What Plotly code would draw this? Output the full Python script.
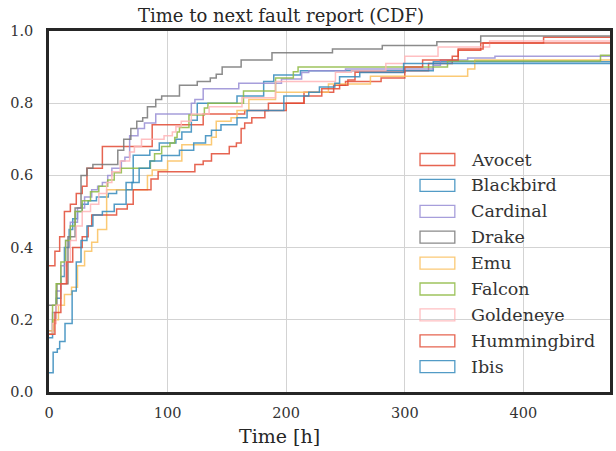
import plotly.graph_objects as go

# ---- data ----
names = ["Avocet", "Blackbird", "Cardinal", "Drake", "Emu", "Falcon",
         "Goldeneye", "Hummingbird", "Ibis"]
colors = ["#E24A33", "#348ABD", "#988ED5", "#777777", "#FBC15E", "#8EBA42",
          "#FFB5B8", "#E24A33", "#348ABD"]

avocet_x = [0, 5, 9, 13, 18, 23, 28, 32, 45, 87, 130, 165, 185, 215, 240, 250, 280, 300, 320, 340, 345, 364, 417, 473]
avocet_y = [0.35, 0.39, 0.43, 0.50, 0.52, 0.55, 0.57, 0.62, 0.68, 0.74, 0.77, 0.78, 0.80, 0.83, 0.85, 0.86, 0.87, 0.89, 0.91, 0.93, 0.947, 0.967, 0.983, 0.983]

blackbird_x = [0, 3, 6, 10, 13, 17, 20, 24, 28, 33, 40, 50, 57, 65, 71, 85, 93, 107, 112, 120, 125, 158.5, 181, 189.5, 212, 324, 473]
blackbird_y = [0.15, 0.20, 0.26, 0.32, 0.40, 0.45, 0.48, 0.50, 0.52, 0.53, 0.54, 0.55, 0.56, 0.58, 0.656, 0.67, 0.69, 0.70, 0.72, 0.753, 0.80, 0.82, 0.86, 0.878, 0.89, 0.915, 0.915]

cardinal_x = [0, 3, 6, 10, 14, 18, 24, 30, 36, 41, 45, 49.5, 53, 61, 64, 68, 75, 80.5, 90, 120, 123, 130, 160, 196, 213, 219, 250, 324, 330, 353, 376, 473]
cardinal_y = [0.17, 0.22, 0.28, 0.35, 0.42, 0.47, 0.51, 0.54, 0.56, 0.57, 0.58, 0.60, 0.62, 0.64, 0.65, 0.71, 0.73, 0.745, 0.77, 0.80, 0.81, 0.84, 0.855, 0.867, 0.885, 0.89, 0.895, 0.905, 0.92, 0.925, 0.93, 0.93]

drake_x = [0, 6.7, 16, 22, 27, 32, 37, 58, 63, 69, 74, 79, 83, 90, 95, 110, 125, 136, 141, 146, 162, 188, 239, 281, 327, 364, 473]
drake_y = [0.24, 0.30, 0.43, 0.51, 0.60, 0.62, 0.63, 0.67, 0.70, 0.73, 0.75, 0.76, 0.79, 0.81, 0.82, 0.85, 0.86, 0.87, 0.88, 0.90, 0.92, 0.94, 0.95, 0.96, 0.97, 0.986, 0.986]

emu_x = [0, 4, 8, 13, 19, 24, 30, 36, 41, 48.6, 83, 87, 100, 112, 137, 141, 153.5, 158.5, 168.5, 191, 235.6, 271, 353, 359, 473]
emu_y = [0.17, 0.20, 0.24, 0.27, 0.29, 0.35, 0.39, 0.415, 0.45, 0.56, 0.60, 0.615, 0.64, 0.685, 0.706, 0.75, 0.76, 0.78, 0.81, 0.83, 0.853, 0.875, 0.895, 0.92, 0.92]

falcon_x = [0, 3, 6, 10, 14, 18, 22, 28, 35, 42, 49.5, 55, 61, 85.5, 89, 95, 102, 106, 108, 110, 118, 131, 134, 164, 191, 206, 210, 336, 465, 473]
falcon_y = [0.16, 0.24, 0.30, 0.36, 0.42, 0.46, 0.50, 0.53, 0.555, 0.57, 0.587, 0.607, 0.62, 0.64, 0.66, 0.68, 0.69, 0.705, 0.72, 0.733, 0.767, 0.787, 0.80, 0.834, 0.87, 0.887, 0.90, 0.917, 0.933, 0.933]

goldeneye_x = [0, 3, 6, 10, 14, 18, 23, 28, 35, 42, 48.6, 53, 60, 68, 72, 78, 97, 104, 107, 111.5, 120, 135, 162.7, 191, 241.5, 255, 284, 300, 328, 371.5, 473]
goldeneye_y = [0.16, 0.19, 0.24, 0.30, 0.36, 0.42, 0.46, 0.50, 0.52, 0.55, 0.58, 0.61, 0.64, 0.665, 0.68, 0.70, 0.71, 0.72, 0.735, 0.75, 0.77, 0.79, 0.815, 0.86, 0.886, 0.89, 0.91, 0.93, 0.956, 0.972, 0.972]

hummingbird_x = [0, 5, 10, 15, 20, 28, 33, 36, 57, 66, 71, 86, 92, 123, 130, 137, 152, 158, 162, 165, 171, 182, 200, 215, 230, 245, 252, 258, 300, 315, 345, 366, 473]
hummingbird_y = [0.16, 0.22, 0.30, 0.36, 0.40, 0.43, 0.46, 0.49, 0.507, 0.52, 0.56, 0.59, 0.61, 0.63, 0.64, 0.66, 0.68, 0.69, 0.73, 0.745, 0.76, 0.78, 0.80, 0.82, 0.84, 0.85, 0.864, 0.886, 0.90, 0.92, 0.95, 0.967, 0.967]

ibis_x = [0, 3.5, 7, 9, 13.5, 19.5, 23, 27, 32, 37, 45, 55, 65, 70, 76, 85, 95, 110, 122, 132, 137, 145, 158.5, 167, 198, 219, 228, 241, 245, 262, 299, 473]
ibis_y = [0.053, 0.11, 0.12, 0.14, 0.19, 0.28, 0.36, 0.42, 0.46, 0.49, 0.50, 0.52, 0.56, 0.58, 0.62, 0.64, 0.655, 0.67, 0.69, 0.71, 0.725, 0.74, 0.76, 0.78, 0.82, 0.83, 0.845, 0.855, 0.873, 0.885, 0.91, 0.91]

xs = [avocet_x, blackbird_x, cardinal_x, drake_x, emu_x, falcon_x, goldeneye_x, hummingbird_x, ibis_x]
ys = [avocet_y, blackbird_y, cardinal_y, drake_y, emu_y, falcon_y, goldeneye_y, hummingbird_y, ibis_y]

x_ticks = [0, 100, 200, 300, 400]
y_ticks = [0.0, 0.2, 0.4, 0.6, 0.8, 1.0]
x_max = 473

FONT = "DejaVu Serif, Liberation Serif, serif"
W, H = 616, 451
L, R, T, B = 49, 613, 31, 392

fig = go.Figure()
for name, col, x, y in zip(names, colors, xs, ys):
    fig.add_trace(go.Scatter(x=x, y=y, mode="lines", name=name,
                             line=dict(color=col, width=1.5, shape="hv"),
                             opacity=0.85, showlegend=False, hoverinfo="skip"))

# manual legend with rectangle patches (like matplotlib step-hist patches)
def px2paper_x(px):
    return (px - L) / (R - L)

def px2paper_y(py):
    return (B - py) / (B - T)

shapes = []
annotations = []
for i, (name, col) in enumerate(zip(names, colors)):
    cy = 159.5 + i * 25.9
    shapes.append(dict(type="rect", xref="paper", yref="paper",
                       x0=px2paper_x(422), x1=px2paper_x(457),
                       y0=px2paper_y(cy + 6), y1=px2paper_y(cy - 6),
                       line=dict(color=col, width=1.3), fillcolor="rgba(0,0,0,0)",
                       opacity=0.85))
    annotations.append(dict(text=name, xref="paper", yref="paper",
                            x=px2paper_x(471), y=px2paper_y(cy), xanchor="left",
                            yanchor="middle", showarrow=False,
                            font=dict(family=FONT, size=17.5, color="#333333")))

annotations.append(dict(text="Time [h]", xref="paper", yref="paper",
                        x=px2paper_x(280.5), y=px2paper_y(436), xanchor="center",
                        yanchor="middle", showarrow=False,
                        font=dict(family=FONT, size=19, color="#262626")))

fig.update_layout(
    width=W, height=H,
    margin=dict(l=L, r=W - R, t=T, b=H - B),
    paper_bgcolor="white", plot_bgcolor="white",
    title=dict(text="Time to next fault report (CDF)", x=281 / W, xanchor="center",
               y=1 - 16 / H, yanchor="middle",
               font=dict(family=FONT, size=18, color="#262626")),
    shapes=shapes, annotations=annotations,
    font=dict(family=FONT, color="#333333"),
)
fig.update_xaxes(range=[0, x_max], tickvals=x_ticks, ticktext=[str(v) for v in x_ticks],
                 showgrid=True, gridcolor="#d3d3d3", gridwidth=1, zeroline=False,
                 showline=True, linecolor="#262626", linewidth=2.5, mirror=True,
                 ticks="", tickfont=dict(family=FONT, size=14.5, color="#333333"),
                 ticklabelstandoff=6)
fig.update_yaxes(range=[0, 1], tickvals=y_ticks, ticktext=[f"{v:.1f}" for v in y_ticks],
                 showgrid=True, gridcolor="#d3d3d3", gridwidth=1, zeroline=False,
                 showline=True, linecolor="#262626", linewidth=2.5, mirror=True,
                 ticks="", tickfont=dict(family=FONT, size=14.5, color="#333333"),
                 ticklabelstandoff=10)

fig.write_html("out.html", config={"displayModeBar": False},
               post_script="document.body.style.margin='0';")
